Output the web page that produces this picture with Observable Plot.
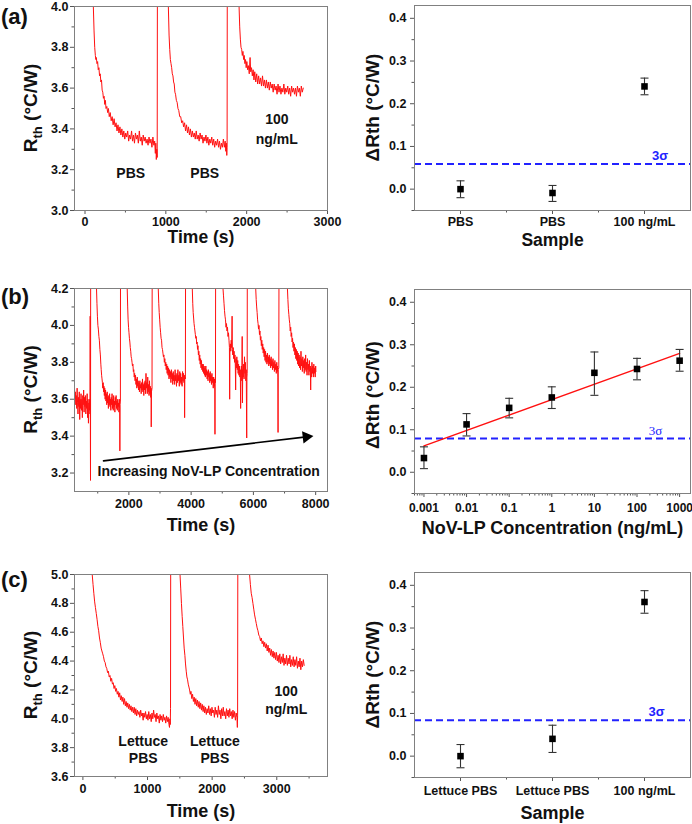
<!DOCTYPE html>
<html><head><meta charset="utf-8">
<script src="https://cdn.jsdelivr.net/npm/d3@7"></script>
<script src="https://cdn.jsdelivr.net/npm/@observablehq/plot@0.6"></script>
<style>
body{margin:0;background:#fff;}
#fig{position:relative;width:692px;height:824px;overflow:hidden;font-family:'Liberation Sans',Arial,sans-serif;}
#fig .panel{position:absolute;}
#fig .tag{position:absolute;left:1px;font-weight:bold;font-size:22px;line-height:22px;color:#111;}
</style></head><body><div id="fig"></div>
<script>
// ---------- DATA ----------
// (a) time trace: [time s, Rth °C/W]
const traceA = [
[80,4.5],[103,4.0],[112,3.88],[120,3.80],[128,3.76],[134,3.74],[140,3.75],[148,3.72],[156,3.73],[164,3.69],[172,3.70],[180,3.66],[188,3.67],[196,3.63],[204,3.64],[212,3.59],[220,3.58],[228,3.55],[236,3.56],[244,3.52],[252,3.54],[260,3.50],[270,3.51],[280,3.48],[290,3.50],[300,3.46],[312,3.48],[324,3.44],[336,3.46],[348,3.42],[360,3.45],[372,3.41],[384,3.43],[396,3.39],[408,3.42],[420,3.38],[432,3.41],[444,3.37],[456,3.40],[468,3.36],[480,3.39],[492,3.35],[504,3.38],[516,3.36],[528,3.39],[540,3.34],[552,3.37],[564,3.35],[576,3.39],[588,3.34],[600,3.37],[612,3.33],[624,3.38],[636,3.35],[648,3.37],[660,3.33],[672,3.39],[684,3.34],[696,3.36],[708,3.32],[720,3.37],[732,3.34],[744,3.36],[756,3.33],[768,3.35],[780,3.32],[792,3.36],[804,3.33],[816,3.35],[828,3.31],[840,3.36],[852,3.32],[862,3.34],[870,3.28],[876,3.33],[882,3.25],[888,3.30],[893,3.26],[897,4.5],
[1028,4.5],[1031,4.0],[1040,3.86],[1048,3.79],[1056,3.74],[1064,3.72],[1072,3.70],[1080,3.67],[1088,3.66],[1096,3.63],[1104,3.62],[1112,3.58],[1120,3.57],[1130,3.54],[1140,3.53],[1150,3.50],[1160,3.49],[1172,3.46],[1184,3.46],[1196,3.43],[1208,3.44],[1220,3.41],[1232,3.43],[1244,3.39],[1256,3.42],[1268,3.38],[1280,3.41],[1292,3.37],[1304,3.40],[1316,3.36],[1328,3.39],[1340,3.36],[1352,3.38],[1364,3.35],[1376,3.39],[1388,3.35],[1400,3.37],[1412,3.34],[1424,3.38],[1436,3.35],[1448,3.37],[1460,3.33],[1472,3.36],[1484,3.34],[1496,3.37],[1508,3.33],[1520,3.36],[1532,3.32],[1544,3.35],[1556,3.33],[1568,3.36],[1580,3.32],[1592,3.35],[1604,3.31],[1616,3.34],[1628,3.32],[1640,3.35],[1652,3.31],[1664,3.34],[1676,3.30],[1688,3.33],[1700,3.31],[1712,3.35],[1724,3.31],[1734,3.34],[1742,3.29],[1748,3.33],[1754,3.27],[1758,3.31],[1761,4.5],
[1902,4.5],[1906,4.0],[1914,3.90],[1922,3.84],[1930,3.80],[1938,3.79],[1946,3.76],[1954,3.78],[1962,3.74],[1970,3.76],[1978,3.72],[1986,3.74],[1994,3.70],[2002,3.73],[2012,3.69],[2022,3.71],[2032,3.67],[2042,3.75],[2050,3.68],[2060,3.70],[2070,3.66],[2080,3.69],[2090,3.64],[2100,3.68],[2112,3.63],[2124,3.67],[2136,3.62],[2148,3.66],[2160,3.62],[2172,3.65],[2184,3.61],[2196,3.66],[2208,3.61],[2220,3.64],[2232,3.60],[2244,3.64],[2256,3.60],[2268,3.63],[2280,3.59],[2292,3.63],[2304,3.60],[2316,3.62],[2328,3.58],[2340,3.62],[2352,3.59],[2364,3.61],[2376,3.57],[2388,3.62],[2400,3.58],[2412,3.61],[2424,3.57],[2436,3.60],[2448,3.58],[2460,3.62],[2472,3.57],[2484,3.60],[2496,3.58],[2508,3.61],[2520,3.57],[2532,3.60],[2544,3.56],[2556,3.61],[2568,3.58],[2580,3.60],[2592,3.57],[2604,3.60],[2616,3.56],[2628,3.61],[2640,3.58],[2652,3.60],[2664,3.56],[2676,3.61],[2688,3.58],[2700,3.60]
];
const notesA = [[566,3.18,"PBS"],[1481,3.18,"PBS"],[2373,3.446,"100"],[2373,3.348,"ng/mL"]];

// (b) time trace
const traceB = [
[254,3.66],[268,3.60],[282,3.64],[296,3.57],[310,3.62],[324,3.55],[338,3.66],[352,3.58],[366,3.52],[380,3.61],[394,3.56],[408,3.64],[422,3.49],[436,3.60],[450,3.55],[464,3.63],[478,3.54],[492,3.60],[506,3.50],[520,3.62],[534,3.57],[548,3.65],[562,3.53],[576,3.61],[590,3.56],[604,3.62],[618,3.52],[632,3.59],[646,3.55],[660,3.63],[674,3.50],[688,3.60],[702,3.47],[716,3.58],[730,3.54],[744,3.60],[752,3.52],[758,4.05],[762,3.58],[768,3.16],[774,4.5],
[955,4.5],[961,4.2],[975,4.12],[990,4.05],[1005,4.00],[1020,3.98],[1037,3.94],[1052,3.92],[1069,3.87],[1085,3.84],[1100,3.79],[1112,3.76],[1125,3.73],[1138,3.71],[1150,3.69],[1162,3.66],[1175,3.69],[1188,3.64],[1200,3.67],[1213,3.62],[1226,3.66],[1239,3.60],[1252,3.65],[1265,3.59],[1278,3.63],[1291,3.57],[1304,3.64],[1317,3.58],[1330,3.61],[1343,3.55],[1356,3.62],[1369,3.57],[1382,3.63],[1395,3.56],[1408,3.60],[1421,3.54],[1434,3.61],[1447,3.57],[1460,3.63],[1473,3.55],[1486,3.60],[1499,3.54],[1512,3.62],[1525,3.56],[1538,3.59],[1551,3.53],[1564,3.61],[1577,3.57],[1590,3.62],[1603,3.55],[1616,3.59],[1629,3.54],[1642,3.60],[1655,3.56],[1668,3.58],[1681,3.53],[1694,3.60],[1705,3.55],[1711,3.32],[1718,3.57],[1728,3.59],[1733,4.5],
[1944,4.5],[1947,4.2],[1962,4.10],[1976,4.03],[1990,3.99],[2004,3.96],[2018,3.93],[2032,3.91],[2046,3.88],[2060,3.86],[2074,3.83],[2088,3.82],[2102,3.80],[2116,3.78],[2130,3.79],[2144,3.75],[2158,3.76],[2172,3.72],[2186,3.74],[2200,3.70],[2214,3.73],[2228,3.68],[2242,3.71],[2256,3.66],[2270,3.72],[2284,3.67],[2298,3.70],[2312,3.65],[2326,3.69],[2340,3.64],[2354,3.70],[2368,3.66],[2382,3.68],[2396,3.63],[2410,3.69],[2424,3.65],[2438,3.71],[2452,3.64],[2466,3.68],[2480,3.62],[2494,3.69],[2508,3.65],[2522,3.70],[2536,3.63],[2550,3.74],[2564,3.66],[2578,3.69],[2592,3.63],[2606,3.72],[2620,3.64],[2634,3.68],[2648,3.62],[2662,3.70],[2676,3.63],[2690,3.67],[2704,3.61],[2714,3.66],[2719,3.45],[2726,3.64],[2744,3.66],[2751,4.5],
[2941,4.5],[2944,4.2],[2960,4.12],[2975,4.07],[2990,4.03],[3005,3.99],[3020,3.96],[3035,3.93],[3050,3.92],[3065,3.88],[3080,3.87],[3095,3.85],[3110,3.83],[3125,3.84],[3140,3.80],[3155,3.82],[3170,3.78],[3185,3.80],[3200,3.76],[3215,3.79],[3230,3.74],[3245,3.78],[3260,3.73],[3275,3.77],[3290,3.71],[3305,3.76],[3320,3.72],[3335,3.75],[3350,3.69],[3365,3.76],[3380,3.71],[3395,3.74],[3410,3.68],[3425,3.75],[3440,3.70],[3455,3.73],[3470,3.68],[3485,3.76],[3500,3.70],[3515,3.73],[3530,3.67],[3545,3.74],[3560,3.69],[3575,3.76],[3590,3.70],[3605,3.73],[3620,3.67],[3635,3.75],[3650,3.69],[3665,3.74],[3680,3.68],[3695,3.72],[3710,3.67],[3725,3.75],[3740,3.70],[3755,3.74],[3770,3.69],[3784,3.73],[3791,3.50],[3798,3.72],[3816,3.71],[3823,4.5],
[4034,4.5],[4037,4.2],[4052,4.12],[4066,4.07],[4080,4.04],[4094,4.01],[4108,3.99],[4122,3.97],[4136,3.95],[4150,3.93],[4164,3.94],[4178,3.90],[4192,3.91],[4206,3.87],[4220,3.89],[4234,3.84],[4248,3.86],[4262,3.81],[4276,3.84],[4290,3.79],[4304,3.82],[4318,3.77],[4332,3.81],[4346,3.76],[4360,3.79],[4374,3.75],[4388,3.79],[4402,3.74],[4416,3.78],[4430,3.73],[4444,3.77],[4458,3.72],[4472,3.78],[4486,3.73],[4500,3.76],[4514,3.71],[4528,3.75],[4542,3.70],[4556,3.76],[4570,3.72],[4584,3.74],[4598,3.69],[4612,3.75],[4626,3.70],[4640,3.73],[4654,3.68],[4668,3.74],[4682,3.69],[4696,3.72],[4710,3.66],[4724,3.72],[4738,3.67],[4750,3.71],[4760,3.65],[4766,3.41],[4772,3.70],[4782,3.69],[4788,4.5],
[5021,4.5],[5024,4.2],[5040,4.16],[5056,4.12],[5072,4.08],[5088,4.05],[5104,4.03],[5120,3.99],[5136,4.01],[5152,3.97],[5168,3.99],[5184,3.94],[5200,3.96],[5216,3.92],[5230,3.88],[5238,3.60],[5246,3.86],[5260,3.90],[5274,3.86],[5288,3.92],[5302,3.88],[5316,4.05],[5324,3.87],[5338,3.84],[5352,3.88],[5366,3.82],[5380,3.86],[5394,3.80],[5408,3.84],[5420,3.78],[5430,3.65],[5440,3.82],[5454,3.77],[5468,3.83],[5482,3.76],[5496,3.81],[5510,3.74],[5524,3.79],[5538,3.73],[5552,3.78],[5566,3.72],[5580,3.76],[5590,3.55],[5600,3.74],[5614,3.78],[5628,3.70],[5640,3.94],[5648,3.58],[5658,3.76],[5672,3.72],[5686,3.79],[5700,3.71],[5714,3.83],[5728,3.74],[5742,3.80],[5756,3.70],[5770,3.76],[5785,3.39],[5792,3.72],[5800,3.74],[5806,4.5],
[6071,4.5],[6074,4.2],[6090,4.14],[6105,4.10],[6120,4.07],[6135,4.03],[6150,4.01],[6165,3.98],[6180,4.00],[6195,3.95],[6210,3.97],[6225,3.92],[6240,3.94],[6255,3.89],[6270,3.92],[6285,3.87],[6300,3.90],[6315,3.85],[6330,3.88],[6345,3.83],[6360,3.87],[6375,3.81],[6390,3.86],[6405,3.80],[6420,3.84],[6435,3.79],[6450,3.85],[6465,3.80],[6480,3.83],[6495,3.78],[6510,3.84],[6525,3.79],[6540,3.82],[6555,3.77],[6570,3.83],[6585,3.78],[6600,3.81],[6615,3.76],[6630,3.82],[6645,3.77],[6660,3.80],[6675,3.75],[6690,3.81],[6705,3.76],[6720,3.79],[6735,3.74],[6750,3.80],[6765,3.75],[6778,3.78],[6786,3.72],[6792,3.42],[6798,3.76],[6816,3.77],[6824,4.5],
[7090,4.5],[7093,4.2],[7108,4.14],[7123,4.09],[7138,4.06],[7153,4.03],[7168,4.01],[7183,3.97],[7198,3.99],[7213,3.94],[7228,3.96],[7243,3.91],[7258,3.93],[7273,3.88],[7288,3.91],[7303,3.86],[7318,3.90],[7333,3.84],[7348,3.88],[7363,3.82],[7378,3.87],[7393,3.81],[7408,3.86],[7423,3.79],[7438,3.85],[7453,3.78],[7468,3.84],[7483,3.77],[7498,3.83],[7513,3.76],[7528,3.86],[7543,3.78],[7558,3.82],[7573,3.75],[7588,3.83],[7603,3.77],[7618,3.81],[7633,3.74],[7648,3.82],[7663,3.76],[7678,3.84],[7693,3.75],[7708,3.80],[7723,3.73],[7738,3.82],[7753,3.76],[7768,3.79],[7783,3.73],[7798,3.81],[7813,3.75],[7828,3.78],[7840,3.65],[7850,3.77],[7865,3.72],[7880,3.80],[7895,3.74],[7910,3.78],[7925,3.72],[7940,3.79],[7955,3.74],[7970,3.77],[7985,3.72],[8000,3.78],[8008,3.75]
];
const arrowT = [1186, 7700];
const arrowR = [3.266, 3.396];
const noteB = [[4563, 3.207, "Increasing NoV-LP Concentration"]];

// (c) time trace
const traceC = [
[130,5.3],[144,5.00],[157,4.93],[169,4.87],[182,4.81],[194,4.77],[207,4.73],[219,4.69],[232,4.64],[244,4.61],[257,4.56],[269,4.53],[282,4.49],[294,4.47],[307,4.45],[319,4.43],[332,4.40],[344,4.39],[357,4.36],[369,4.35],[382,4.32],[394,4.33],[407,4.29],[419,4.30],[432,4.26],[444,4.28],[457,4.24],[469,4.25],[482,4.21],[494,4.23],[507,4.19],[519,4.21],[532,4.17],[544,4.19],[557,4.15],[569,4.18],[582,4.13],[594,4.16],[607,4.12],[619,4.15],[632,4.10],[644,4.14],[657,4.09],[669,4.12],[682,4.08],[694,4.11],[707,4.07],[719,4.10],[732,4.06],[744,4.09],[757,4.05],[769,4.08],[782,4.04],[794,4.08],[807,4.03],[819,4.07],[832,4.02],[844,4.06],[857,4.03],[869,4.05],[882,4.01],[894,4.06],[907,4.02],[919,4.04],[932,3.99],[944,4.04],[957,4.01],[969,4.05],[982,4.00],[994,4.03],[1007,3.99],[1019,4.05],[1032,4.00],[1044,4.03],[1057,3.98],[1069,4.04],[1082,4.00],[1094,4.06],[1107,4.01],[1119,4.03],[1132,3.98],[1144,4.04],[1157,4.00],[1169,4.02],[1182,3.97],[1194,4.03],[1207,3.99],[1219,4.02],[1232,3.98],[1244,4.03],[1257,3.99],[1269,4.01],[1282,3.97],[1294,4.02],[1307,3.98],[1319,4.01],[1332,3.96],[1340,3.94],[1346,4.00],[1352,3.96],[1356,4.07],[1359,5.3],
[1495,5.3],[1503,5.00],[1514,4.90],[1525,4.80],[1536,4.71],[1546,4.64],[1557,4.56],[1567,4.49],[1578,4.44],[1588,4.38],[1599,4.33],[1609,4.29],[1620,4.27],[1630,4.24],[1641,4.22],[1651,4.20],[1662,4.17],[1672,4.19],[1685,4.14],[1697,4.17],[1710,4.12],[1722,4.15],[1735,4.10],[1747,4.14],[1760,4.09],[1772,4.13],[1785,4.08],[1797,4.12],[1810,4.07],[1822,4.11],[1835,4.06],[1847,4.10],[1860,4.05],[1872,4.09],[1885,4.04],[1897,4.08],[1910,4.03],[1922,4.07],[1935,4.04],[1947,4.09],[1960,4.03],[1972,4.07],[1985,4.02],[1997,4.08],[2010,4.04],[2022,4.06],[2035,4.01],[2047,4.08],[2060,4.03],[2072,4.06],[2085,4.01],[2097,4.09],[2110,4.03],[2122,4.06],[2135,4.00],[2147,4.07],[2160,4.02],[2172,4.08],[2185,4.02],[2197,4.05],[2210,4.00],[2222,4.07],[2235,4.02],[2247,4.06],[2260,4.01],[2272,4.07],[2285,4.02],[2297,4.05],[2310,4.00],[2322,4.06],[2335,4.01],[2347,4.05],[2360,3.99],[2372,4.04],[2384,4.01],[2390,3.94],[2394,4.02],[2398,5.3],
[2570,5.3],[2579,5.00],[2592,4.93],[2605,4.87],[2618,4.84],[2631,4.80],[2644,4.76],[2657,4.72],[2670,4.69],[2683,4.66],[2696,4.63],[2709,4.61],[2722,4.58],[2735,4.57],[2748,4.54],[2761,4.56],[2774,4.52],[2787,4.54],[2800,4.50],[2813,4.53],[2826,4.49],[2839,4.52],[2852,4.47],[2865,4.51],[2878,4.46],[2891,4.49],[2904,4.44],[2917,4.48],[2930,4.43],[2943,4.47],[2956,4.42],[2969,4.46],[2982,4.41],[2995,4.46],[3008,4.40],[3021,4.44],[3034,4.39],[3047,4.45],[3060,4.38],[3073,4.43],[3086,4.39],[3099,4.45],[3112,4.37],[3125,4.42],[3138,4.38],[3151,4.44],[3164,4.37],[3177,4.42],[3190,4.38],[3203,4.44],[3216,4.36],[3229,4.41],[3242,4.37],[3255,4.43],[3268,4.36],[3281,4.41],[3294,4.37],[3307,4.43],[3320,4.35],[3333,4.40],[3346,4.36],[3359,4.42],[3372,4.34],[3385,4.40],[3398,4.36],[3411,4.41],[3424,4.37]
];
const notesC = [[934,3.841,"Lettuce"],[934,3.724,"PBS"],[2042,3.841,"Lettuce"],[2042,3.724,"PBS"],[3146,4.186,"100"],[3146,4.062,"ng/mL"]];

// (a) right: ΔRth per sample
const samplesA = ["PBS", "PBS", "100 ng/mL"];
const deltaA = [0.000, -0.009, 0.2405];
const loA = [-0.020, -0.0288, 0.221];
const hiA = [0.0195, 0.0086, 0.260];
const sigmaA = 0.059;

// (b) right: ΔRth vs concentration
const concB = [0.001, 0.01, 0.1, 1, 10, 100, 1000];
const deltaB = [0.0334, 0.1126, 0.1515, 0.176, 0.234, 0.243, 0.2625];
const loB = [0.0085, 0.0854, 0.128, 0.150, 0.181, 0.2175, 0.2377];
const hiB = [0.0598, 0.138, 0.174, 0.201, 0.283, 0.268, 0.289];
const fitX = [0.001, 1000];
const fitY = [0.062, 0.2796];
const sigmaB = 0.0792;
const concTickLabels = ["0.001", "0.01", "0.1", "1", "10", "100", "1000"];

// (c) right
const samplesC = ["Lettuce PBS", "Lettuce PBS", "100 ng/mL"];
const deltaC = [0.000, 0.0405, 0.361];
const loC = [-0.0272, 0.0086, 0.3346];
const hiC = [0.0272, 0.0724, 0.3875];
const sigmaC = 0.084;

// ---------- DRAWING ----------
const FONT = "'Liberation Sans', Arial, Helvetica, sans-serif";
const RED = "#ff1010", BLUE = "#2222ff", FRAME = "#808080", TICK = "#555";
const fig = document.getElementById("fig");
const capSymbol = {draw(ctx, size) { const w = Math.sqrt(size / Math.PI); ctx.moveTo(-w, 0); ctx.lineTo(w, 0); }};
const fmt1 = d3.format(".1f");

function place(svg, left, top) {
  const wrap = document.createElement("div");
  wrap.className = "panel"; wrap.style.left = left + "px"; wrap.style.top = top + "px";
  wrap.appendChild(svg); fig.appendChild(wrap);
}
function tag(text, top) {
  const d = document.createElement("div"); d.className = "tag"; d.style.top = top + "px"; d.textContent = text; fig.appendChild(d);
}
function yTitle(svg, x, y, parts) {
  const t = d3.select(svg).append("text")
    .attr("transform", `translate(${x},${y}) rotate(-90)`)
    .attr("text-anchor", "middle").attr("font-weight", "bold")
    .attr("font-family", FONT).attr("fill", "#111");
  for (const p of parts) t.append("tspan").text(p.text).attr("font-size", p.size).attr("dy", p.dy || 0);
}
const baseStyle = {fontFamily: FONT, fontWeight: "bold", fontSize: "12.5px", color: "#111", background: "transparent", overflow: "visible"};

function timePanel(c) {
  const svg = Plot.plot({
    width: 346, height: c.height,
    marginTop: c.mt, marginBottom: c.mb, marginLeft: 74, marginRight: 19,
    style: baseStyle,
    x: {domain: c.xDomain},
    y: {domain: c.yDomain},
    marks: [
      Plot.axisY({ticks: c.yTicks, tickFormat: fmt1, tickSize: 4, tickPadding: 2, stroke: TICK, fill: "#111", label: null}),
      Plot.axisY({ticks: c.yMinor, tickFormat: () => "", tickSize: 2.5, stroke: TICK, label: null}),
      Plot.axisX({ticks: c.xTicks, tickFormat: d => String(d), tickSize: 4, tickPadding: c.xPad ?? 4, stroke: TICK, fill: "#111", label: null}),
      Plot.axisX({ticks: c.xMinor, tickFormat: () => "", tickSize: 2.5, stroke: TICK, label: null}),
      Plot.line(c.trace, {x: d => d[0], y: d => d[1], stroke: RED, strokeWidth: 1, clip: true}),
      Plot.text(c.notes, {x: d => d[0], y: d => d[1], text: d => d[2], fontSize: 14, fontWeight: "bold", fill: "#111"}),
      ...(c.extra || []),
      Plot.frame({stroke: FRAME, strokeWidth: 1}),
      Plot.text(["Time (s)"], {frameAnchor: "bottom", lineAnchor: "middle", text: d => d, dy: c.titleDy, fontSize: c.titleSize ?? 18, fontWeight: "bold", fill: "#111"})
    ]
  });
  yTitle(svg, 37, c.mt + (c.height - c.mt - c.mb) / 2, [
    {text: "R", size: 19}, {text: "th", size: 13, dy: 5}, {text: " (°C/W)", size: 19, dy: -5}
  ]);
  return svg;
}

function deltaPanel(c) {
  const idx = c.delta.map((_, i) => i);
  const xv = i => c.xs[i];
  const svg = Plot.plot({
    width: 346, height: c.height,
    marginTop: c.mt, marginBottom: c.mb, marginLeft: 68, marginRight: 2,
    style: baseStyle,
    x: c.xScale,
    y: {domain: [-0.05, 0.43]},
    marks: [
      Plot.axisY({ticks: [0, 0.1, 0.2, 0.3, 0.4], tickFormat: fmt1, tickSize: 4, tickPadding: 4, stroke: TICK, fill: "#111", label: null}),
      Plot.axisY({ticks: [-0.05, 0.05, 0.15, 0.25, 0.35], tickFormat: () => "", tickSize: 2.5, stroke: TICK, label: null}),
      Plot.axisX({ticks: c.xTicks, tickFormat: c.xFormat, tickSize: 4, tickPadding: c.xPad, stroke: TICK, fill: "#111", fontSize: c.xFont, label: null}),
      Plot.axisX({ticks: c.xMinor, tickFormat: () => "", tickSize: 2.5, stroke: TICK, label: null}),
      Plot.ruleY([c.sigma], {y: d => d, stroke: BLUE, strokeWidth: 2, strokeDasharray: "7,4"}),
      Plot.text([c.sigma], {x: () => c.sigmaX, y: d => d, text: () => "3σ", dy: -8, fill: BLUE, fontSize: 13, fontWeight: c.sigmaWeight, fontFamily: c.sigmaFont}),
      ...(c.extra || []),
      Plot.ruleX(idx, {x: xv, y1: i => c.lo[i], y2: i => c.hi[i], stroke: "#333", strokeWidth: 1.1}),
      Plot.dot(idx, {x: xv, y: i => c.lo[i], symbol: capSymbol, r: 4, stroke: "#333", strokeWidth: 1.1, fill: "none"}),
      Plot.dot(idx, {x: xv, y: i => c.hi[i], symbol: capSymbol, r: 4, stroke: "#333", strokeWidth: 1.1, fill: "none"}),
      Plot.dot(idx, {x: xv, y: i => c.delta[i], symbol: "square", r: 3.7, fill: "#000", stroke: "none"}),
      Plot.frame({stroke: FRAME, strokeWidth: 1}),
      Plot.text([c.xTitle], {frameAnchor: "bottom", lineAnchor: "middle", text: d => d, dy: c.titleDy, fontSize: c.titleSize ?? 18, fontWeight: "bold", fill: "#111"})
    ]
  });
  yTitle(svg, 33, c.mt + (c.height - c.mt - c.mb) / 2 + (c.yOff || 0), [{text: "ΔRth (°C/W)", size: 19}]);
  return svg;
}

// Row (a)
place(timePanel({
  height: 250, mt: 6, mb: 40, titleDy: 27, titleSize: 17.5, xPad: 3,
  xDomain: [-130, 3000], yDomain: [3.0, 4.0],
  xTicks: [0, 1000, 2000, 3000], xMinor: [500, 1500, 2500],
  yTicks: [3.0, 3.2, 3.4, 3.6, 3.8, 4.0], yMinor: [3.1, 3.3, 3.5, 3.7, 3.9],
  trace: traceA, notes: notesA
}), 0, 0);
const catX = [1, 2, 3];
place(deltaPanel({
  height: 250, mt: 5, mb: 40, titleDy: 30, titleSize: 17.5, xTitle: "Sample",
  xScale: {domain: [0.5, 3.5]}, xs: catX, xTicks: catX, xMinor: [1.5, 2.5],
  xFormat: i => samplesA[i - 1], xPad: 3, xFont: 12.5,
  delta: deltaA, lo: loA, hi: hiA, sigma: sigmaA, sigmaX: 3.17, sigmaWeight: "bold", sigmaFont: FONT
}), 346, 0);

// Row (b)
place(timePanel({
  height: 275, mt: 18, mb: 54, titleDy: 34,
  xDomain: [254, 8380], yDomain: [3.1, 4.2],
  xTicks: [2000, 4000, 6000, 8000], xMinor: [1000, 3000, 5000, 7000],
  yTicks: [3.2, 3.4, 3.6, 3.8, 4.0, 4.2], yMinor: [3.3, 3.5, 3.7, 3.9, 4.1],
  trace: traceB, notes: noteB,
  extra: [
    Plot.line(arrowT.map((t, i) => [t, arrowR[i]]), {x: d => d[0], y: d => d[1], stroke: "#000", strokeWidth: 1.6}),
    Plot.dot([[arrowT[1], arrowR[1]]], {x: d => d[0], y: d => d[1], symbol: "triangle", r: 4.6, rotate: 83, fill: "#000", stroke: "none"})
  ]
}), 0, 270);
const minorLog = [];
for (let e = -4; e <= 3; e++) for (let m = 2; m <= 9; m++) { const v = m * Math.pow(10, e); if (v >= 0.0006 && v <= 1800) minorLog.push(v); }
place(deltaPanel({
  height: 275, mt: 19, mb: 52, titleDy: 35, xTitle: "NoV-LP Concentration (ng/mL)", yOff: 4,
  xScale: {type: "log", domain: [0.0006, 1800]}, xs: concB, xTicks: concB, xMinor: minorLog,
  xFormat: d => concTickLabels[concB.indexOf(d)] ?? "", xPad: 6, xFont: 12,
  delta: deltaB, lo: loB, hi: hiB, sigma: sigmaB, sigmaX: 272, sigmaWeight: "normal", sigmaFont: "'Liberation Serif', 'Times New Roman', serif",
  extra: [Plot.line(fitX.map((x, i) => [x, fitY[i]]), {x: d => d[0], y: d => d[1], stroke: RED, strokeWidth: 1.4})]
}), 346, 270);

// Row (c)
place(timePanel({
  height: 269, mt: 19, mb: 48, titleDy: 35,
  xDomain: [-130, 3785], yDomain: [3.6, 5.0],
  xTicks: [0, 1000, 2000, 3000], xMinor: [500, 1500, 2500, 3500],
  yTicks: [3.6, 3.8, 4.0, 4.2, 4.4, 4.6, 4.8, 5.0], yMinor: [3.7, 3.9, 4.1, 4.3, 4.5, 4.7, 4.9],
  trace: traceC, notes: notesC
}), 0, 555);
place(deltaPanel({
  height: 269, mt: 17, mb: 47, titleDy: 36, xTitle: "Sample",
  xScale: {domain: [0.5, 3.5]}, xs: catX, xTicks: catX, xMinor: [1.5, 2.5],
  xFormat: i => samplesC[i - 1], xPad: 4.5, xFont: 12.5,
  delta: deltaC, lo: loC, hi: hiC, sigma: sigmaC, sigmaX: 3.13, sigmaWeight: "bold", sigmaFont: FONT
}), 346, 555);

tag("(a)", 6);
tag("(b)", 286);
tag("(c)", 569);
</script></body></html>
